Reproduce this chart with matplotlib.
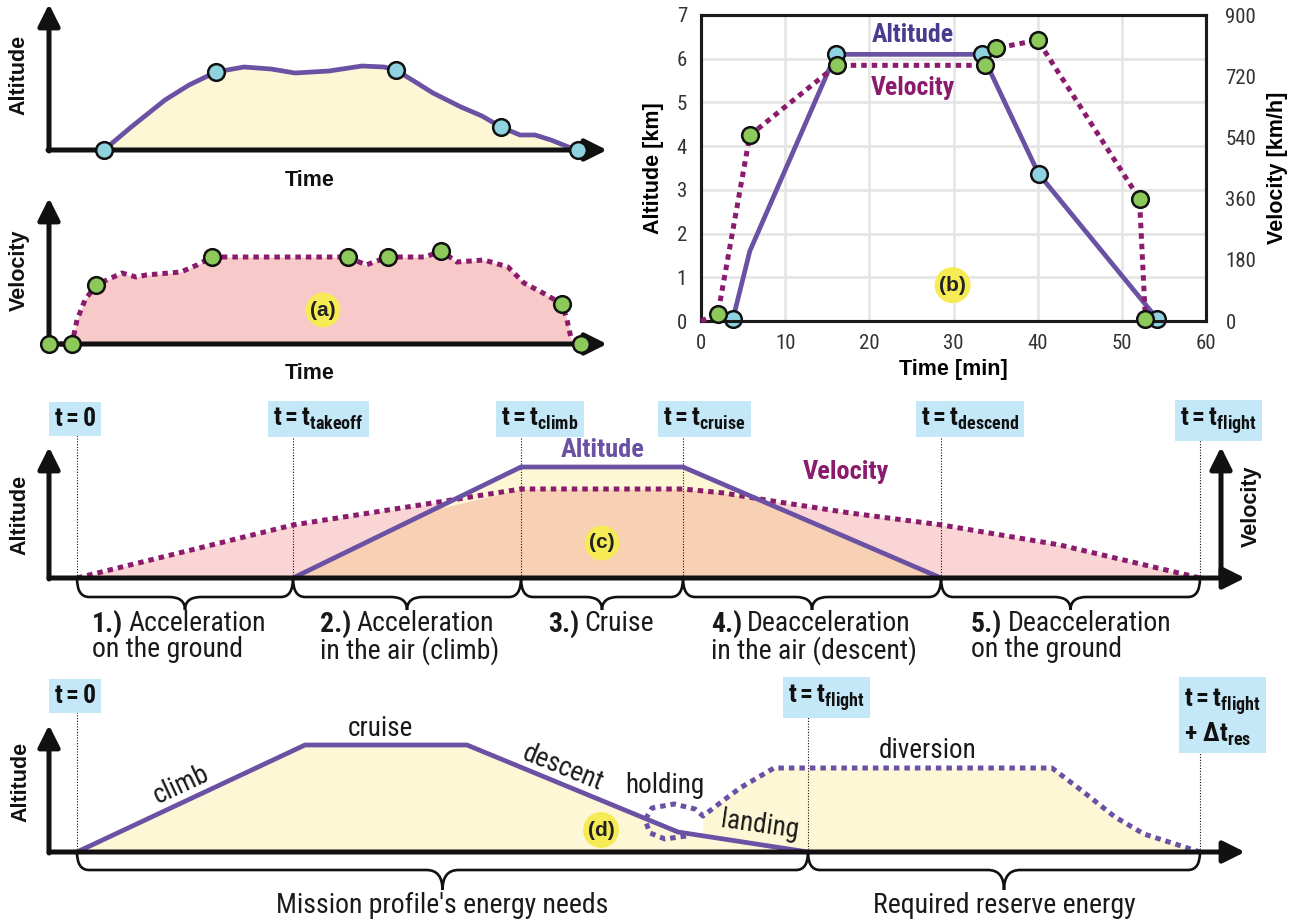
import numpy as np
import matplotlib.pyplot as plt
from matplotlib import font_manager
from matplotlib.path import Path
from matplotlib.patches import PathPatch

# ---------------- data ----------------
# (a) schematic recorded flight (arbitrary time / altitude / velocity units)
a_alt_t = [55, 81, 116, 140, 167, 195, 222, 246, 280, 313, 335, 347, 368, 384, 412, 433, 452, 471, 486, 502, 522, 529]
a_alt_h = [0, 22, 50, 65, 78, 83, 81, 77, 79, 84, 83, 80, 67, 57, 43, 34, 23, 15, 15, 10, 2, 0]
a_alt_mark_t = [55, 167, 347, 452, 529]
a_alt_mark_h = [0, 78, 80, 23, 0]
a_vel_t = [0, 23, 28, 36, 47, 73, 87, 97, 132, 148, 163, 299, 317, 339, 376, 392, 408, 435, 459, 475, 494, 513, 518, 522, 532]
a_vel_v = [0, 0, 24, 44, 59, 71, 67, 69, 72, 79, 87, 87, 79, 87, 87, 93, 82, 84, 77, 61, 51, 40, 24, 6, 0]
a_vel_mark_t = [0, 23, 47, 163, 299, 339, 392, 513, 532]
a_vel_mark_v = [0, 0, 59, 87, 87, 87, 93, 40, 0]

# (b) simplified mission: time [min], altitude [km], velocity [km/h]
b_alt_t = [3.8, 5.8, 16.0, 33.4, 40.1, 54.2]
b_alt_h = [0.05, 1.6, 6.1, 6.1, 3.37, 0.05]
b_alt_mark = [0, 2, 3, 4, 5]
b_vel_t = [0, 2.0, 5.8, 16.1, 33.7, 35.0, 40.0, 52.1, 52.8]
b_vel_v = [0, 20, 546, 752, 752, 802, 826, 359, 6]
b_vel_mark = [1, 2, 3, 4, 5, 6, 7, 8]
b_xticks = [0, 10, 20, 30, 40, 50, 60]
b_yticks = [0, 1, 2, 3, 4, 5, 6, 7]
b_vticks = [0, 180, 360, 540, 720, 900]

# (c) flight phases (arbitrary units)
c_times = [0, 216, 444, 606, 864, 1123]
c_time_names = ['0', 'takeoff', 'climb', 'cruise', 'descend', 'flight']
c_alt_t = [0, 216, 444, 606, 864, 1123]
c_alt_h = [0, 0, 111, 111, 0, 0]
c_vel_t = [0, 216, 343, 444, 606, 647, 689, 773, 865, 983, 1123]
c_vel_v = [0, 53, 73, 89, 89, 85, 78, 65, 53, 33, 0]
c_phase_bold = ['1.)', '2.)', '3.)', '4.)', '5.)']
c_phase_text = ['Acceleration\non the ground', 'Acceleration\nin the air (climb)', 'Cruise',
                'Deacceleration\nin the air (descent)', 'Deacceleration\non the ground']

# (d) mission + reserve
d_times = [0, 731, 1123]
d_alt_t = [0, 228, 390, 601, 731]
d_alt_h = [0, 107, 107, 20, 0]
d_res_t = [609, 588, 573, 568, 575, 597, 618, 626, 643, 663, 697, 975, 1004, 1038, 1067, 1095, 1123]
d_res_h = [16, 13, 19, 32, 44, 48, 43, 36, 49, 64, 84, 84, 62, 35, 18, 9, 0]
d_groups = ["Mission profile's energy needs", 'Required reserve energy']

# ---------------- style ----------------
names = {f.name for f in font_manager.fontManager.ttflist}
NARROW = 'Roboto'
for cand in ['Roboto Condensed', 'Liberation Sans Narrow', 'Arial Narrow']:
    if cand in names:
        NARROW = cand
        break
BOLDF = 'Liberation Sans' if 'Liberation Sans' in names else 'DejaVu Sans'
plt.rcParams['font.family'] = [NARROW, 'DejaVu Sans']
plt.rcParams['mathtext.fontset'] = 'custom'
plt.rcParams['mathtext.rm'] = NARROW
plt.rcParams['mathtext.bf'] = NARROW + ':bold'
plt.rcParams['mathtext.it'] = NARROW + ':italic'

INK = '#111111'
TXT = '#1a1a1a'
ALT = '#6a51a3'
VEL = '#8b1c6d'
BLUE = '#8fd3e0'
GREEN = '#8cc85a'
YEL_FILL = '#fdf7d6'
PINK_FILL = '#f8c9c9'
PINK2 = '#f9d5d5'
PEACH = '#f8d0b4'
BOXC = '#c5e8f8'
DOT = (0, (1.1, 1.0))

W, H = 1296, 922
fig = plt.figure(figsize=(W / 100, H / 100), dpi=100)
renderer = fig.canvas.get_renderer()


def sketch_axes(left, top, right, bottom, ox, oy):
    ax = fig.add_axes([left / W, 1 - bottom / H, (right - left) / W, (bottom - top) / H])
    ax.set_xlim(left - ox, right - ox)
    ax.set_ylim(oy - bottom, oy - top)
    ax.axis('off')
    return ax


def axis_arrow(ax, x0, y0, x1, y1):
    ax.annotate('', xy=(x1, y1), xytext=(x0, y0),
                arrowprops=dict(arrowstyle='-|>,head_length=1.2,head_width=0.6', lw=3.6, color=INK,
                                shrinkA=0, shrinkB=0, mutation_scale=11),
                annotation_clip=False, zorder=5)


def brace(ax, x0, x1, h, depth):
    xm = (x0 + x1) / 2
    r, rc = 12, 16
    verts = [(x0, 0), (x0, -h), (x0 + r, -h), (xm - rc, -h), (xm, -h), (xm, -depth),
             (xm, -h), (xm + rc, -h), (x1 - r, -h), (x1, -h), (x1, 0)]
    codes = [Path.MOVETO, Path.CURVE3, Path.CURVE3, Path.LINETO, Path.CURVE3, Path.CURVE3,
             Path.CURVE3, Path.CURVE3, Path.LINETO, Path.CURVE3, Path.CURVE3]
    ax.add_patch(PathPatch(Path(verts, codes), fc='none', ec=INK, lw=1.9, clip_on=False, zorder=5))


def tag(ax, x, y, s):
    ax.text(x, y, s, ha='center', va='center', fontsize=15, fontweight='bold', family=BOLDF,
            color='#222222', zorder=7,
            bbox=dict(boxstyle='circle,pad=0.22', fc='#f6eb55', ec='none'))


def bold_label(ax, x, y, s, rot=90, size=15.5, color=INK):
    ax.text(x, y, s, ha='center', va='center', rotation=rot, fontsize=size,
            fontweight='bold', family=BOLDF, color=color, zorder=7)


def time_box(ax, x, y, s, va='baseline'):
    ax.text(x - 20, y, s, ha='left', va=va, fontsize=18.5, color=INK, zorder=7,
            bbox=dict(boxstyle='square,pad=0.2', fc=BOXC, ec='none'))


def phase_label(ax, x, y, head, body):
    t1 = ax.text(x, y, head, ha='left', va='top', fontsize=20, fontweight='bold', color=TXT)
    bb = t1.get_window_extent(renderer)
    inv = ax.transData.inverted()
    x2 = inv.transform((bb.x1 + 5, bb.y1))[0]
    first, _, rest = body.partition('\n')
    ax.text(x2, y, first, ha='left', va='top', fontsize=20, color=TXT)
    if rest:
        ax.text(x, y - 26, rest, ha='left', va='top', fontsize=20, color=TXT)


# ---------------- (a) top: altitude ----------------
ax = sketch_axes(0, 0, 620, 195, 49, 150)
ax.fill_between(a_alt_t, a_alt_h, 0, color=YEL_FILL, lw=0, zorder=1)
ax.plot(a_alt_t, a_alt_h, color=ALT, lw=3.4, solid_joinstyle='round', zorder=3)
ax.plot(a_alt_mark_t, a_alt_mark_h, 'o', ms=12, mfc=BLUE, mec=INK, mew=1.8, zorder=6, clip_on=False)
axis_arrow(ax, -1, 0, 558, 0)
axis_arrow(ax, 0, -1, 0, 146)
bold_label(ax, -30, 75, 'Altitude')
bold_label(ax, 261, -30, 'Time', rot=0)

# ---------------- (a) bottom: velocity ----------------
ax = sketch_axes(0, 195, 620, 390, 49, 344)
ax.fill_between(a_vel_t, a_vel_v, 0, color=PINK_FILL, lw=0, zorder=1)
ax.plot(a_vel_t, a_vel_v, color=VEL, lw=3.6, ls=DOT, zorder=3)
ax.plot(a_vel_mark_t, a_vel_mark_v, 'o', ms=12, mfc=GREEN, mec=INK, mew=1.8, zorder=6, clip_on=False)
axis_arrow(ax, -1, 0, 558, 0)
axis_arrow(ax, 0, -1, 0, 146)
bold_label(ax, -30, 74, 'Velocity')
bold_label(ax, 261, -29, 'Time', rot=0)
tag(ax, 274, 34, '(a)')

# ---------------- (b) real mission ----------------
axb = fig.add_axes([701 / W, 1 - 321 / H, 505 / W, 306 / H])
axv = axb.twinx()
axb.set_xlim(0, 60)
axb.set_ylim(0, 7)
axv.set_ylim(0, 900)
axb.set_xticks(b_xticks)
axb.set_yticks(b_yticks)
axv.set_yticks(b_vticks)
axb.grid(True, color='#e6e6e6', lw=2)
axb.set_axisbelow(True)
for a in (axb, axv):
    for sp in a.spines.values():
        sp.set_linewidth(2.2)
        sp.set_color('#1a1a1a')
    a.tick_params(length=0, labelsize=15, labelcolor='#333333')
axb.tick_params(axis='y', pad=10)
axb.tick_params(axis='x', pad=9)
axv.tick_params(axis='y', pad=14)
axb.set_xlabel('Time [min]', fontsize=15.5, fontweight='bold', family=BOLDF, labelpad=5)
axb.set_ylabel('Altitude [km]', fontsize=15.5, fontweight='bold', family=BOLDF, labelpad=9)
axv.set_ylabel('Velocity [km/h]', fontsize=15.5, fontweight='bold', family=BOLDF, labelpad=8)
axb.plot(b_alt_t, b_alt_h, color=ALT, lw=3.4, zorder=3, clip_on=False)
axv.plot(b_vel_t, b_vel_v, color=VEL, lw=3.6, ls=DOT, zorder=3, clip_on=False)
axb.plot([b_alt_t[i] for i in b_alt_mark], [b_alt_h[i] for i in b_alt_mark], 'o', ms=12,
         mfc=BLUE, mec=INK, mew=1.8, zorder=6, clip_on=False)
axv.plot([b_vel_t[i] for i in b_vel_mark], [b_vel_v[i] for i in b_vel_mark], 'o', ms=12,
         mfc=GREEN, mec=INK, mew=1.8, zorder=6, clip_on=False)
axv.text(25.2, 6.55 * 900 / 7, 'Altitude', ha='center', va='center', fontsize=18.5,
         fontweight='bold', color='#4b3b8f')
axv.text(25.2, 5.32 * 900 / 7, 'Velocity', ha='center', va='center', fontsize=18.5,
         fontweight='bold', color=VEL)
axv.text(29.9, 0.82 * 900 / 7, '(b)', ha='center', va='center', fontsize=15, fontweight='bold',
         family=BOLDF, color='#222222', zorder=7,
         bbox=dict(boxstyle='circle,pad=0.22', fc='#f6eb55', ec='none'))

# ---------------- (c) phases ----------------
ax = sketch_axes(0, 395, 1296, 670, 77, 578)
ax.fill_between(c_vel_t, c_vel_v, 0, color=PINK2, lw=0, zorder=1)
ax.fill_between(c_alt_t, c_alt_h, 0, color=YEL_FILL, lw=0, zorder=1)
# overlap of both energy areas
ov_t = sorted(set(c_vel_t + c_alt_t + [300, 356, 700, 742]))
ov_alt = np.interp(ov_t, c_alt_t, c_alt_h)
ov_vel = np.interp(ov_t, c_vel_t, c_vel_v)
ax.fill_between(ov_t, np.minimum(ov_alt, ov_vel), 0, color=PEACH, lw=0, zorder=1)
ax.plot(c_vel_t, c_vel_v, color=VEL, lw=3.6, ls=DOT, zorder=3)
ax.plot(c_alt_t[1:5], c_alt_h[1:5], color=ALT, lw=3.4, zorder=4)
axis_arrow(ax, -28, 0, 1168, 0)
axis_arrow(ax, -28, -1, -28, 131)
axis_arrow(ax, 1144, -1, 1144, 131)
bold_label(ax, -57, 63, 'Altitude')
bold_label(ax, 1174, 72, 'Velocity')
ax.text(526, 128, 'Altitude', ha='center', va='center', fontsize=19, fontweight='bold', color=ALT)
ax.text(769, 106, 'Velocity', ha='center', va='center', fontsize=19, fontweight='bold', color=VEL)
tag(ax, 525, 35, '(c)')
for t, nm in zip(c_times, c_time_names):
    ax.plot([t, t], [0, 145], color=INK, lw=0.8, ls=(0, (1, 1.5)), zorder=2)
    s = r'$\mathbf{t = 0}$' if nm == '0' else r'$\mathbf{t = t_{%s}}$' % nm
    time_box(ax, t - (3 if nm == '0' else 0), 152, s)
c_label_x = [15, 243, 471, 634, 894]
for i in range(5):
    brace(ax, c_times[i], c_times[i + 1], 19, 32)
    phase_label(ax, c_label_x[i], -32, c_phase_bold[i], c_phase_text[i])

# ---------------- (d) mission + reserve ----------------
ax = sketch_axes(0, 675, 1296, 922, 77, 852)
ax.fill_between(d_alt_t, d_alt_h, 0, color=YEL_FILL, lw=0, zorder=1)
ax.fill_between(d_res_t[7:], d_res_h[7:], 0, color=YEL_FILL, lw=0, zorder=1)
ax.plot(d_alt_t, d_alt_h, color=ALT, lw=3.4, zorder=3)
ax.plot(d_res_t, d_res_h, color=ALT, lw=3.6, ls=DOT, zorder=3)
axis_arrow(ax, -28, 0, 1168, 0)
axis_arrow(ax, -28, -1, -28, 127)
bold_label(ax, -56, 70, 'Altitude')
tag(ax, 524, 22, '(d)')
ax.text(104, 67, 'climb', rotation=25, ha='center', va='center', fontsize=19.5, color=TXT)
ax.text(303, 124, 'cruise', ha='center', va='center', fontsize=19.5, color=TXT)
ax.text(486, 84, 'descent', rotation=-22, ha='center', va='center', fontsize=19.5, color=TXT)
ax.text(588, 67, 'holding', ha='center', va='center', fontsize=19.5, color=TXT)
ax.text(683, 27, 'landing', rotation=-8, ha='center', va='center', fontsize=19.5, color=TXT)
ax.text(851, 102, 'diversion', ha='center', va='center', fontsize=19.5, color=TXT)
for t, top in zip(d_times, [141, 141, 117]):
    ax.plot([t, t], [0, top], color=INK, lw=0.8, ls=(0, (1, 1.5)), zorder=2)
time_box(ax, d_times[0] - 3, 149, r'$\mathbf{t = 0}$')
time_box(ax, d_times[1], 149, r'$\mathbf{t = t_{flight}}$')
time_box(ax, d_times[2] + 4, 166, r'$\mathbf{t = t_{flight}}$' + '\n' + r'$\mathbf{+\ \Delta t_{res}}$', va='top')
for i in range(2):
    brace(ax, d_times[i], d_times[i + 1], 18, 38)
    ax.text((d_times[i] + d_times[i + 1]) / 2, -53, d_groups[i], ha='center', va='center',
            fontsize=20, color=TXT)

fig.savefig('out.png', dpi=100)
